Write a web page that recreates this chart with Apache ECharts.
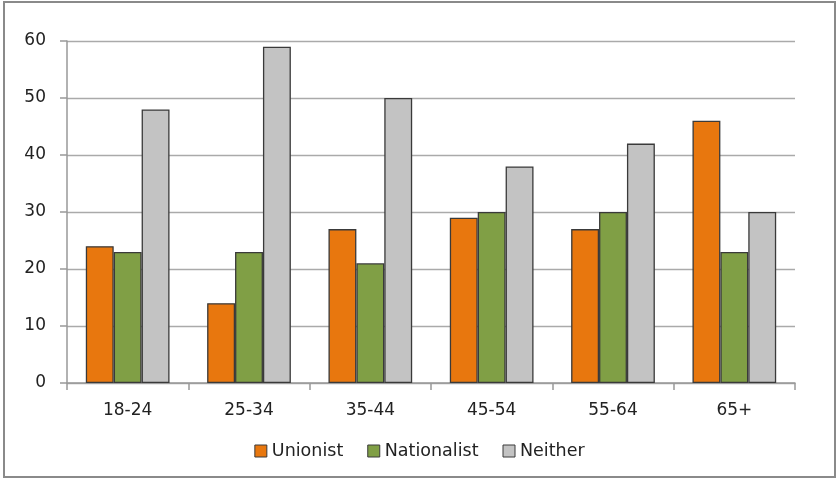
<!DOCTYPE html>
<html><head><meta charset="utf-8">
<script src="https://cdn.jsdelivr.net/npm/echarts@6/dist/echarts.min.js"></script>
<style>html,body{margin:0;padding:0;background:#fff}#c{width:839px;height:480px}</style>
</head><body><div id="c"></div>
<script>
var categories = ['18-24','25-34','35-44','45-54','55-64','65+'];
var unionist = [24,14,27,29,27,46];
var nationalist = [23,23,21,30,30,23];
var neither = [48,59,50,38,42,30];
var seriesNames = ['Unionist','Nationalist','Neither'];
var colors = ['#E8770E','#809F45','#C3C3C3'];
var font = '"DejaVu Sans", sans-serif';
var chart = echarts.init(document.getElementById('c'));
function bar(name, data, color){
  return {name:name,type:'bar',data:data,barGap:'0%',barCategoryGap:'31%',
    itemStyle:{color:color,borderColor:'#3a3a3a',borderWidth:1.3}};
}
chart.setOption({
  animation:false,
  graphic:[{type:'rect',shape:{x:4,y:2,width:831,height:475},style:{fill:'none',stroke:'#8a8a8a',lineWidth:2}}],
  grid:{left:67,right:44,top:41,bottom:97},
  legend:{top:437,left:'center',itemWidth:12,itemHeight:12,itemGap:24,icon:'rect',
    textStyle:{fontFamily:font,fontSize:17.5,color:'#222'},
    itemStyle:{borderColor:'#3a3a3a',borderWidth:1},data:seriesNames},
  xAxis:{type:'category',data:categories,
    axisLine:{lineStyle:{color:'#999',width:1.5}},
    axisTick:{show:true,length:7,lineStyle:{color:'#999',width:1.5}},
    axisLabel:{fontFamily:font,fontSize:17,color:'#222',margin:19}},
  yAxis:{type:'value',min:0,max:60,interval:10,
    axisLine:{show:true,lineStyle:{color:'#999',width:1.5}},
    axisTick:{show:true,length:7,lineStyle:{color:'#999',width:1.5}},
    splitLine:{lineStyle:{color:'#aaa',width:1.3}},
    axisLabel:{fontFamily:font,fontSize:17,color:'#222',margin:21,padding:[3,0,0,0]}},
  series:[bar(seriesNames[0],unionist,colors[0]),bar(seriesNames[1],nationalist,colors[1]),bar(seriesNames[2],neither,colors[2])]
});
</script></body></html>
